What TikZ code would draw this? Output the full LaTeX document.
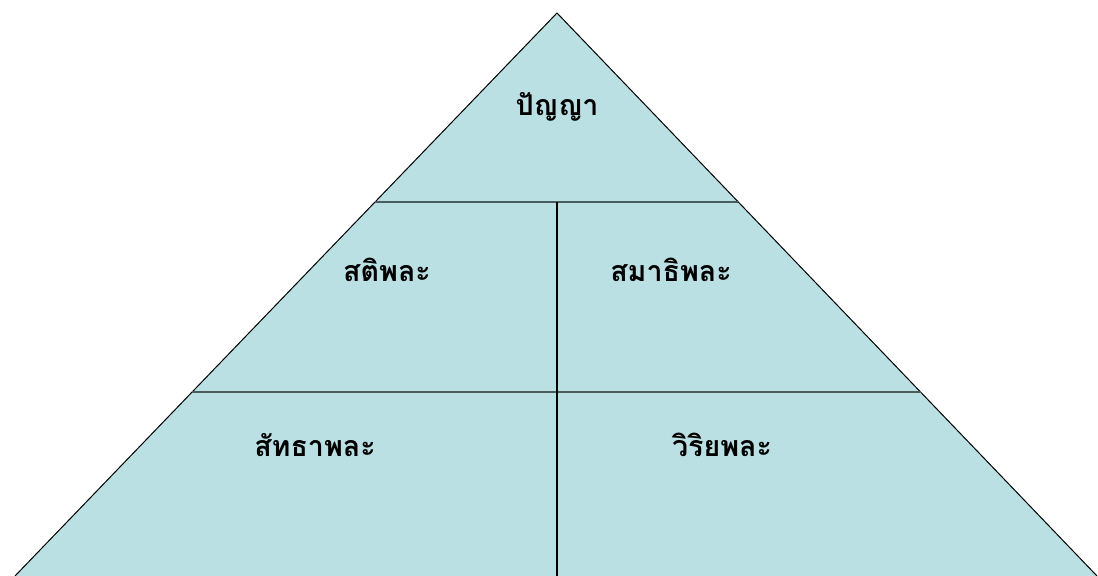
\documentclass[tikz,border=0pt]{standalone}
\usepackage{fontspec}
\newfontfamily\thaifont[Script=Thai]{Loma}
\usetikzlibrary{calc,positioning}
\definecolor{pyrfill}{HTML}{BAE0E3}
\definecolor{divline}{HTML}{4A5C5C}

\begin{document}
\begin{tikzpicture}[
        x=0.5pt, y=-0.5pt,
        level/.style={font=\thaifont\bfseries\fontsize{14.3}{16}\selectfont, anchor=base, inner sep=0pt},
        divider/.style={draw=divline, line width=1.3pt},
        split/.style={draw=black, line width=1pt}
    ]
        \useasboundingbox (0,0) rectangle (1098,576);
        \coordinate (top) at (557,13);
        \coordinate (bl) at (15,576);
        \coordinate (br) at (1097,576);
        % pyramid body
        \fill[pyrfill] (bl) -- (top) -- (br) -- cycle;
        \draw[line width=0.5pt] (bl) -- (top) -- (br);
        % layer borders
        \coordinate (l1) at ($(top)!{189/563}!(bl)$);
        \coordinate (r1) at ($(top)!{189/563}!(br)$);
        \coordinate (l2) at ($(top)!{379/563}!(bl)$);
        \coordinate (r2) at ($(top)!{379/563}!(br)$);
        \coordinate (mid) at (557,202);
        \coordinate (foot) at (557,576);
        \draw[divider] (l1) -- (r1);
        \draw[divider] (l2) -- (r2);
        \draw[split] (mid) -- (foot);
        % labels
        \node[level] (panya) at (557,116) {ปัญญา};
        \node[level] (sati) at (387,282) {สติพละ};
        \node[level] (samadhi) at (671,282) {สมาธิพละ};
        \node[level] (saddha) at (315,457) {สัทธาพละ};
        \node[level] (viriya) at (722,457) {วิริยพละ};
    \end{tikzpicture}
\end{document}
